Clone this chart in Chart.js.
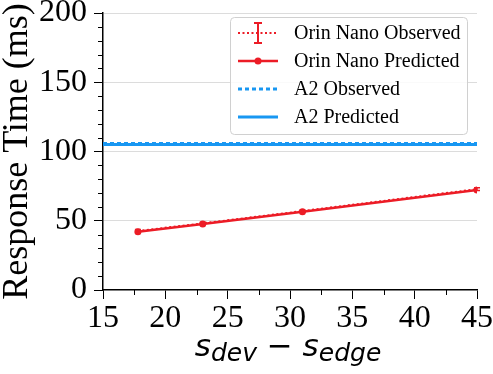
<!DOCTYPE html>
<html>
<head>
<meta charset="utf-8">
<script src="https://cdn.jsdelivr.net/npm/chart.js@4.4.1/dist/chart.umd.min.js"></script>
<style>
  html, body { margin: 0; padding: 0; background: #fff; }
</style>
</head>
<body>
<canvas id="chart" width="493" height="374"></canvas>
<script>
// data
const orinX = [17.8, 23, 31, 45];
const orinObserved = [42.6, 48.1, 57.0, 72.8];
const orinObservedErr = [1.0, 0.8, 0.8, 1.0];
const orinPredicted = [42.0, 47.6, 56.5, 72.2];
const a2X = [15, 45];
const a2Observed = [105.7, 105.7];
const a2Predicted = [105.0, 105.0];
const xTicks = [15, 20, 25, 30, 35, 40, 45];
const yTicks = [0, 50, 100, 150, 200];
const xMinor = [17.5, 22.5, 27.5, 32.5, 37.5, 42.5];
const yMinor = [10, 20, 30, 40, 60, 70, 80, 90, 110, 120, 130, 140, 160, 170, 180, 190];

const RED = '#ec1c26';
const BLUE = '#1897f2';
const SERIF = '"Liberation Serif", "Times New Roman", serif';

const pts = (xs, ys) => xs.map((x, i) => ({ x: x, y: ys[i] }));

// minor ticks, error bars, legend and the math x label
const extras = {
    id: 'extras',
    afterDatasetsDraw(chart) {
        const ctx = chart.ctx;
        const xs = chart.scales.x, ys = chart.scales.y;

        // error bars on the observed series
        ctx.save();
        ctx.strokeStyle = RED;
        ctx.lineWidth = 1.5;
        orinX.forEach((x, i) => {
            const px = xs.getPixelForValue(x);
            const top = ys.getPixelForValue(orinObserved[i] + orinObservedErr[i]);
            const bot = ys.getPixelForValue(orinObserved[i] - orinObservedErr[i]);
            ctx.beginPath();
            ctx.moveTo(px, top); ctx.lineTo(px, bot);
            ctx.moveTo(px - 3, top); ctx.lineTo(px + 3, top);
            ctx.moveTo(px - 3, bot); ctx.lineTo(px + 3, bot);
            ctx.stroke();
        });
        ctx.restore();
    },
    afterDraw(chart) {
        const ctx = chart.ctx;
        const xs = chart.scales.x, ys = chart.scales.y;
        const area = chart.chartArea;

        // minor ticks
        ctx.save();
        ctx.strokeStyle = '#000';
        ctx.lineWidth = 1;
        ctx.beginPath();
        yMinor.forEach(v => {
            const py = Math.round(ys.getPixelForValue(v)) + 0.5;
            ctx.moveTo(area.left - 5, py); ctx.lineTo(area.left, py);
        });
        xMinor.forEach(v => {
            const px = Math.round(xs.getPixelForValue(v)) + 0.5;
            ctx.moveTo(px, area.bottom); ctx.lineTo(px, area.bottom + 5);
        });
        ctx.stroke();
        ctx.restore();

        // legend
        const ds = chart.data.datasets;
        const bw = 237, bh = 117;
        const bx = area.right - 10 - bw, by = area.top + 4;
        ctx.save();
        ctx.fillStyle = 'rgba(255,255,255,0.85)';
        ctx.strokeStyle = '#d0d0d0';
        ctx.lineWidth = 1;
        ctx.beginPath();
        ctx.roundRect(bx + 0.5, by + 0.5, bw, bh, 4);
        ctx.fill();
        ctx.stroke();
        ds.forEach((d, i) => {
            const cy = by + 16 + i * 28;
            const x0 = bx + 8, x1 = bx + 48, xc = (x0 + x1) / 2;
            ctx.strokeStyle = d.borderColor;
            ctx.lineWidth = d.borderWidth;
            ctx.setLineDash(d.borderDash || []);
            ctx.beginPath();
            ctx.moveTo(x0, cy); ctx.lineTo(x1, cy);
            ctx.stroke();
            ctx.setLineDash([]);
            if (d.errorBars) {
                ctx.lineWidth = 2;
                ctx.beginPath();
                ctx.moveTo(xc, cy - 10); ctx.lineTo(xc, cy + 10);
                ctx.moveTo(xc - 4, cy - 10); ctx.lineTo(xc + 4, cy - 10);
                ctx.moveTo(xc - 4, cy + 10); ctx.lineTo(xc + 4, cy + 10);
                ctx.stroke();
            }
            if (d.pointRadius > 0) {
                ctx.fillStyle = d.borderColor;
                ctx.beginPath();
                ctx.arc(xc, cy, d.pointRadius, 0, Math.PI * 2);
                ctx.fill();
            }
            ctx.fillStyle = '#000';
            ctx.font = '20px ' + SERIF;
            ctx.textBaseline = 'middle';
            ctx.textAlign = 'left';
            ctx.fillText(d.label, bx + 64, cy + 1);
        });
        ctx.restore();

        // x axis title: s_dev - s_edge
        const parts = [
            { t: 's', f: 'italic 31px "DejaVu Sans"', dy: 0 },
            { t: 'dev', f: 'italic 25px "DejaVu Sans"', dy: 5 },
            { t: ' \u2212 ', f: '31px "DejaVu Sans"', dy: 0 },
            { t: 's', f: 'italic 31px "DejaVu Sans"', dy: 0 },
            { t: 'edge', f: 'italic 25px "DejaVu Sans"', dy: 5 }
        ];
        ctx.save();
        ctx.fillStyle = '#000';
        ctx.textBaseline = 'alphabetic';
        ctx.textAlign = 'left';
        let total = 0;
        parts.forEach(p => { ctx.font = p.f; p.w = ctx.measureText(p.t).width; total += p.w; });
        let x = (area.left + area.right) / 2 - total / 2 - 2;
        const base = area.bottom + 66;
        parts.forEach(p => {
            ctx.font = p.f;
            ctx.fillText(p.t, x, base + p.dy);
            x += p.w;
        });
        ctx.restore();
    }
};

new Chart(document.getElementById('chart'), {
    type: 'line',
    data: {
        datasets: [
            {
                label: 'Orin Nano Observed',
                data: pts(orinX, orinObserved),
                borderColor: RED,
                borderWidth: 2,
                borderDash: [2, 2.5],
                pointRadius: 0,
                errorBars: true,
                order: 4
            },
            {
                label: 'Orin Nano Predicted',
                data: pts(orinX, orinPredicted),
                borderColor: RED,
                backgroundColor: RED,
                borderWidth: 2.5,
                pointRadius: 3.5,
                pointBorderWidth: 0,
                order: 3
            },
            {
                label: 'A2 Observed',
                data: pts(a2X, a2Observed),
                borderColor: BLUE,
                borderWidth: 3,
                borderDash: [4, 3],
                pointRadius: 0,
                order: 2
            },
            {
                label: 'A2 Predicted',
                data: pts(a2X, a2Predicted),
                borderColor: BLUE,
                borderWidth: 3,
                pointRadius: 0,
                order: 1
            }
        ]
    },
    options: {
        responsive: false,
        animation: false,
        layout: { padding: { left: 0, right: 16, top: 13, bottom: 0 } },
        plugins: { legend: { display: false }, tooltip: { enabled: false } },
        scales: {
            x: {
                type: 'linear',
                min: 15,
                max: 45,
                afterBuildTicks: s => { s.ticks = xTicks.map(v => ({ value: v })); },
                afterFit: s => { s.height = 84; },
                grid: { drawOnChartArea: false, tickColor: '#000', tickLength: 9, tickWidth: 1 },
                border: { color: '#000', width: 1.5 },
                ticks: {
                    font: { family: SERIF, size: 32 },
                    color: '#000',
                    padding: 0,
                    maxRotation: 0,
                    autoSkip: false
                }
            },
            y: {
                min: 0,
                max: 200,
                afterBuildTicks: s => { s.ticks = yTicks.map(v => ({ value: v })); },
                afterFit: s => { s.width = 103; s.paddingTop = 0; s.paddingBottom = 0; },
                grid: {
                    color: c => (c.tick && c.tick.value === 0) ? 'rgba(0,0,0,0)' : '#dcdcdc',
                    tickColor: '#000',
                    tickLength: 9,
                    tickWidth: 1
                },
                border: { color: '#000', width: 1.5 },
                ticks: {
                    font: { family: SERIF, size: 32 },
                    color: '#000',
                    padding: 7,
                    autoSkip: false
                },
                title: {
                    display: true,
                    text: 'Response Time (ms)',
                    font: { family: SERIF, size: 36, lineHeight: 1 },
                    color: '#000',
                    padding: 0
                }
            }
        }
    },
    plugins: [extras]
});
</script>
</body>
</html>
